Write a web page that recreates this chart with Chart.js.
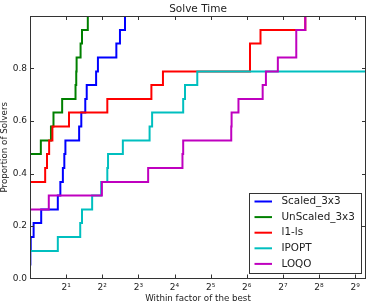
<!DOCTYPE html>
<html>
<head>
<meta charset="utf-8">
<script src="https://cdn.jsdelivr.net/npm/chart.js@4.4.1/dist/chart.umd.min.js"></script>
<style>
  html, body { margin: 0; padding: 0; background: #fff; }
  #wrap { width: 372px; height: 306px; }
</style>
</head>
<body>
<div id="wrap"><canvas id="solveTime"></canvas></div>
<script>
// x = log2 of the factor of the best, y = proportion of solvers
const scaledX   = [0, 0.01, 0.02, 0.10, 0.31, 0.77, 0.84, 0.91, 0.95, 0.98, 1.36, 1.42, 1.53, 1.57, 1.83, 1.88, 2.39, 2.49, 2.63];
const scaledY   = [0.053, 0.105, 0.158, 0.211, 0.263, 0.316, 0.368, 0.421, 0.474, 0.526, 0.579, 0.632, 0.684, 0.737, 0.789, 0.842, 0.895, 0.947, 1.0];

const unscaledX = [0, 0.30, 0.58, 0.65, 0.89, 1.26, 1.28, 1.29, 1.40, 1.44, 1.60];
const unscaledY = [0.474, 0.526, 0.579, 0.632, 0.684, 0.737, 0.789, 0.842, 0.895, 0.947, 1.0];

const l1lsX     = [0, 0.42, 0.47, 0.53, 0.62, 1.08, 2.14, 3.36, 3.68, 6.09, 6.09, 6.38, 7.62];
const l1lsY     = [0.368, 0.421, 0.474, 0.526, 0.579, 0.632, 0.684, 0.737, 0.789, 0.842, 0.895, 0.947, 1.0];

const ipoptX    = [0, 0.77, 1.39, 1.44, 1.72, 1.97, 2.14, 2.16, 2.57, 3.31, 3.38, 4.24, 4.29, 4.63, 9.3];
const ipoptY    = [0.105, 0.158, 0.211, 0.263, 0.316, 0.368, 0.421, 0.474, 0.526, 0.579, 0.632, 0.684, 0.737, 0.789, 0.789];

const loqoX     = [0, 0.52, 1.99, 3.27, 4.22, 4.24, 5.57, 5.58, 5.77, 6.44, 6.53, 6.86, 7.37, 7.37, 7.62];
const loqoY     = [0.263, 0.316, 0.368, 0.421, 0.474, 0.526, 0.579, 0.632, 0.684, 0.737, 0.789, 0.842, 0.895, 0.947, 1.0];

const xTickLabels = ['', '2¹', '2²', '2³', '2⁴', '2⁵', '2⁶', '2⁷', '2⁸', '2⁹'];
const yTickLabels = ['0.0', '0.2', '0.4', '0.6', '0.8'];

function toPoints(xs, ys) {
    return xs.map((x, i) => ({ x: x, y: ys[i] }));
}

Chart.defaults.font.family = "'DejaVu Sans', sans-serif";
Chart.defaults.color = '#222';

// frame + inward tick marks, drawn over the lines like matplotlib spines
const frameTicks = {
    id: 'frameTicks',
    afterDatasetsDraw(chart) {
        const { ctx, chartArea: a, scales } = chart;
        const len = 4;
        ctx.save();
        ctx.strokeStyle = '#333';
        ctx.lineWidth = 1;
        ctx.beginPath();
        scales.x.ticks.forEach(t => {
            if (t.value <= 0) return;
            const px = Math.round(scales.x.getPixelForValue(t.value)) + 0.5;
            ctx.moveTo(px, a.bottom); ctx.lineTo(px, a.bottom - len);
            ctx.moveTo(px, a.top);    ctx.lineTo(px, a.top + len);
        });
        scales.y.ticks.forEach(t => {
            if (t.value <= 0 || t.value >= 1) return;
            const py = Math.round(scales.y.getPixelForValue(t.value)) + 0.5;
            ctx.moveTo(a.left, py);  ctx.lineTo(a.left + len, py);
            ctx.moveTo(a.right, py); ctx.lineTo(a.right - len, py);
        });
        ctx.stroke();
        ctx.strokeRect(Math.round(a.left) + 0.5, Math.round(a.top) + 0.5,
                       Math.round(a.width) - 1, Math.round(a.height) - 1);
        ctx.restore();
    }
};

// legend box in the lower right corner of the plot
const boxLegend = {
    id: 'boxLegend',
    afterDraw(chart) {
        const { ctx, chartArea: a } = chart;
        const w = 111.5, h = 80, rowH = 15.6;
        const x0 = a.right - 6 - w, y0 = a.bottom - 6 - h;
        ctx.save();
        ctx.fillStyle = '#fff';
        ctx.fillRect(x0, y0, w, h);
        ctx.strokeStyle = '#333';
        ctx.lineWidth = 1;
        ctx.strokeRect(Math.round(x0) + 0.5, Math.round(y0) + 0.5, Math.round(w), Math.round(h));
        ctx.font = "10.4px 'DejaVu Sans'";
        ctx.textBaseline = 'middle';
        chart.data.datasets.forEach((ds, i) => {
            const cy = y0 + 9 + i * rowH;
            ctx.strokeStyle = ds.borderColor;
            ctx.lineWidth = 2;
            ctx.beginPath();
            ctx.moveTo(x0 + 6, cy); ctx.lineTo(x0 + 23.5, cy);
            ctx.stroke();
            ctx.fillStyle = '#222';
            ctx.fillText(ds.label, x0 + 33, cy);
        });
        ctx.restore();
    }
};

const ctx = document.getElementById('solveTime').getContext('2d');

new Chart(ctx, {
    type: 'line',
    data: {
        datasets: [
            { label: 'Scaled_3x3',   data: toPoints(scaledX, scaledY),     borderColor: '#0000ff', order: 5 },
            { label: 'UnScaled_3x3', data: toPoints(unscaledX, unscaledY), borderColor: '#008000', order: 4 },
            { label: 'l1-ls',        data: toPoints(l1lsX, l1lsY),         borderColor: '#ff0000', order: 3 },
            { label: 'IPOPT',        data: toPoints(ipoptX, ipoptY),       borderColor: '#00bfbf', order: 2 },
            { label: 'LOQO',         data: toPoints(loqoX, loqoY),         borderColor: '#bf00bf', order: 1 }
        ]
    },
    options: {
        animation: false,
        responsive: true,
        maintainAspectRatio: false,
        layout: { padding: { top: 0, right: 6, bottom: 0, left: 0 } },
        elements: {
            line: { borderWidth: 2, stepped: true, fill: false, tension: 0 },
            point: { radius: 0, hoverRadius: 0 }
        },
        scales: {
            x: {
                type: 'linear',
                min: 0,
                max: 9.3,
                grid: { display: false, drawTicks: false },
                border: { display: false },
                ticks: {
                    stepSize: 1,
                    includeBounds: false,
                    autoSkip: false,
                    maxRotation: 0,
                    padding: 4,
                    font: { size: 9 },
                    callback: (v) => xTickLabels[v] || ''
                },
                title: {
                    display: true,
                    text: 'Within factor of the best',
                    font: { size: 8.7 },
                    padding: { top: 0, bottom: 2 }
                },
                afterFit: (s) => { s.height = 27.5; }
            },
            y: {
                min: 0,
                max: 1,
                grid: { display: false, drawTicks: false },
                border: { display: false },
                ticks: {
                    stepSize: 0.2,
                    padding: 3,
                    font: { size: 9 },
                    callback: (v, i) => yTickLabels[i] || ''
                },
                title: {
                    display: true,
                    text: 'Proportion of Solvers',
                    font: { size: 8.7 },
                    padding: { top: 0, bottom: 0 }
                },
                afterFit: (s) => { s.width = 30; }
            }
        },
        plugins: {
            legend: { display: false },
            tooltip: { enabled: false },
            title: {
                display: true,
                text: 'Solve Time',
                fullSize: false,
                font: { size: 10.5, weight: 'normal' },
                color: '#222',
                padding: { top: 3, bottom: 0.4 }
            }
        }
    },
    plugins: [frameTicks, boxLegend]
});
</script>
</body>
</html>
